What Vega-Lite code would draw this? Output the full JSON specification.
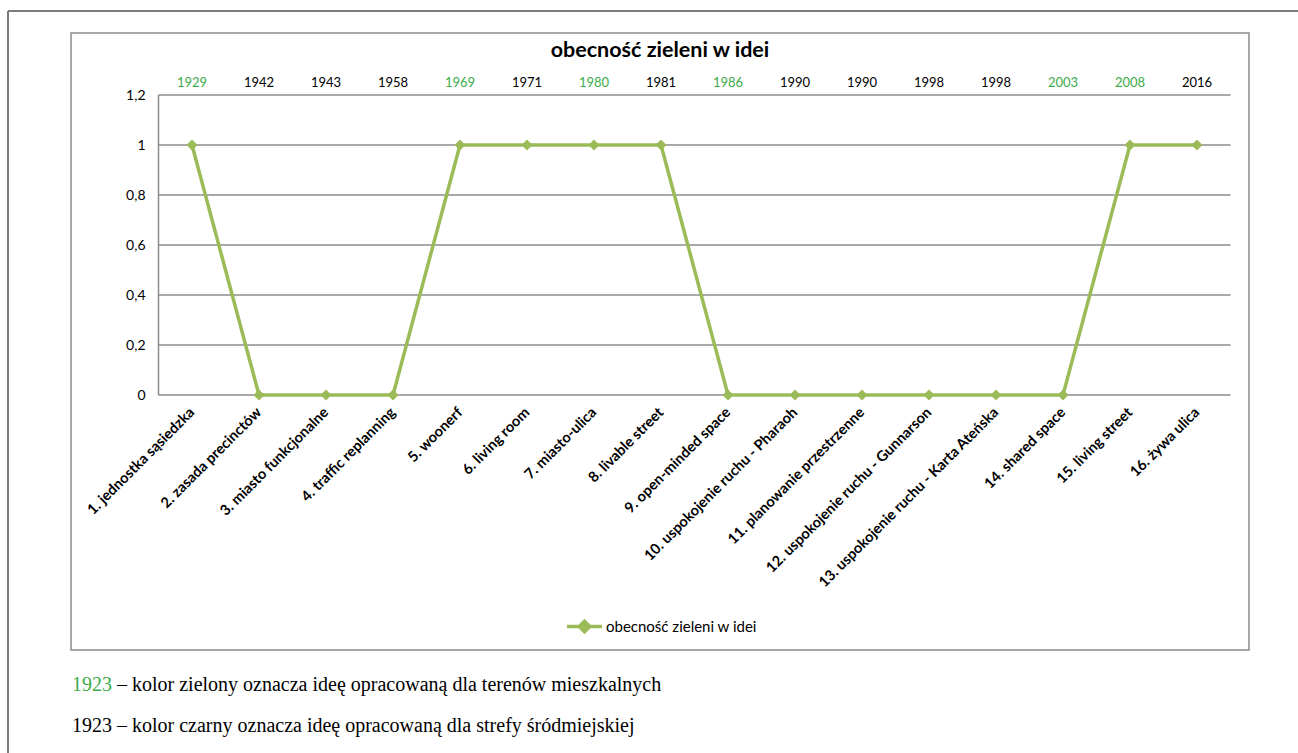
{
  "$schema": "https://vega.github.io/schema/vega-lite/v6.json",
  "width": 1178,
  "height": 617,
  "autosize": "none",
  "padding": {"left": 71, "top": 33, "right": 49, "bottom": 103},
  "background": "white",
  "config": {"view": {"stroke": "#8c8c8c", "strokeWidth": 1.5}, "font": "Lato"},
  "title": {"text": "obecność zieleni w idei", "fontSize": 21.5, "fontWeight": "bold", "font": "Lato", "color": "#000000", "anchor": "middle", "frame": "group", "offset": -51},
  "datasets": {
    "idee": [
      {"n": 1, "idea": "1. jednostka sąsiedzka", "rok": "1929", "strefa": "mieszkaniowa", "seria": "obecność zieleni w idei", "wartosc": 1},
      {"n": 2, "idea": "2. zasada precinctów", "rok": "1942", "strefa": "śródmiejska", "seria": "obecność zieleni w idei", "wartosc": 0},
      {"n": 3, "idea": "3. miasto funkcjonalne", "rok": "1943", "strefa": "śródmiejska", "seria": "obecność zieleni w idei", "wartosc": 0},
      {"n": 4, "idea": "4. traffic replanning", "rok": "1958", "strefa": "śródmiejska", "seria": "obecność zieleni w idei", "wartosc": 0},
      {"n": 5, "idea": "5. woonerf", "rok": "1969", "strefa": "mieszkaniowa", "seria": "obecność zieleni w idei", "wartosc": 1},
      {"n": 6, "idea": "6. living room", "rok": "1971", "strefa": "śródmiejska", "seria": "obecność zieleni w idei", "wartosc": 1},
      {"n": 7, "idea": "7. miasto-ulica", "rok": "1980", "strefa": "mieszkaniowa", "seria": "obecność zieleni w idei", "wartosc": 1},
      {"n": 8, "idea": "8. livable street", "rok": "1981", "strefa": "śródmiejska", "seria": "obecność zieleni w idei", "wartosc": 1},
      {"n": 9, "idea": "9. open-minded space", "rok": "1986", "strefa": "mieszkaniowa", "seria": "obecność zieleni w idei", "wartosc": 0},
      {"n": 10, "idea": "10. uspokojenie ruchu - Pharaoh", "rok": "1990", "strefa": "śródmiejska", "seria": "obecność zieleni w idei", "wartosc": 0},
      {"n": 11, "idea": "11. planowanie przestrzenne", "rok": "1990", "strefa": "śródmiejska", "seria": "obecność zieleni w idei", "wartosc": 0},
      {"n": 12, "idea": "12. uspokojenie ruchu - Gunnarson", "rok": "1998", "strefa": "śródmiejska", "seria": "obecność zieleni w idei", "wartosc": 0},
      {"n": 13, "idea": "13. uspokojenie ruchu - Karta Ateńska", "rok": "1998", "strefa": "śródmiejska", "seria": "obecność zieleni w idei", "wartosc": 0},
      {"n": 14, "idea": "14. shared space", "rok": "2003", "strefa": "mieszkaniowa", "seria": "obecność zieleni w idei", "wartosc": 0},
      {"n": 15, "idea": "15. living street", "rok": "2008", "strefa": "mieszkaniowa", "seria": "obecność zieleni w idei", "wartosc": 1},
      {"n": 16, "idea": "16. żywa ulica", "rok": "2016", "strefa": "śródmiejska", "seria": "obecność zieleni w idei", "wartosc": 1}
    ],
    "siatka": [{"v": 0}, {"v": 0.2}, {"v": 0.4}, {"v": 0.6}, {"v": 0.8}, {"v": 1}, {"v": 1.2}]
  },
  "data": {"name": "idee"},
  "layer": [
    {
      "data": {"name": "siatka"},
      "mark": {"type": "rule", "color": "#8c8c8c", "strokeWidth": 1.5, "xOffset": -33.5, "x2Offset": 33.5},
      "encoding": {
        "x": {"datum": "1. jednostka sąsiedzka", "type": "nominal", "scale": {"type": "point", "padding": 0, "range": [121, 1126], "domain": ["1. jednostka sąsiedzka", "2. zasada precinctów", "3. miasto funkcjonalne", "4. traffic replanning", "5. woonerf", "6. living room", "7. miasto-ulica", "8. livable street", "9. open-minded space", "10. uspokojenie ruchu - Pharaoh", "11. planowanie przestrzenne", "12. uspokojenie ruchu - Gunnarson", "13. uspokojenie ruchu - Karta Ateńska", "14. shared space", "15. living street", "16. żywa ulica"]}},
        "x2": {"datum": "16. żywa ulica"},
        "y": {"field": "v", "type": "quantitative", "scale": {"domain": [-1.02, 1.448], "nice": false, "zero": false}, "axis": {"values": [0, 0.2, 0.4, 0.6, 0.8, 1, 1.2], "offset": -74, "domain": false, "ticks": false, "tickSize": 0, "grid": false, "labelPadding": 0, "labelFontSize": 14, "labelColor": "#000000", "labelFont": "Lato", "title": null, "labelExpr": "replace(format(datum.value, '.1~f'), '.', ',')"}}
      }
    },
    {
      "data": {"values": [{"od": 0, "do": 1.2}]},
      "mark": {"type": "rule", "color": "#8c8c8c", "strokeWidth": 1.5, "xOffset": -33.5},
      "encoding": {
        "x": {"datum": "1. jednostka sąsiedzka", "type": "nominal"},
        "y": {"field": "od", "type": "quantitative"},
        "y2": {"field": "do"}
      }
    },
    {
      "data": {"values": [{"a": 1}]},
      "mark": {"type": "rule", "color": "#7a7a7a", "strokeWidth": 2, "xOffset": -184, "x2Offset": 200},
      "encoding": {
        "x": {"datum": "1. jednostka sąsiedzka", "type": "nominal"},
        "x2": {"datum": "16. żywa ulica"},
        "y": {"datum": 1.536}
      }
    },
    {
      "data": {"values": [{"a": 1}]},
      "mark": {"type": "rule", "color": "#7a7a7a", "strokeWidth": 2, "xOffset": -184},
      "encoding": {
        "x": {"datum": "1. jednostka sąsiedzka", "type": "nominal"},
        "y": {"datum": 1.536},
        "y2": {"datum": -1.7}
      }
    },
    {
      "mark": {"type": "line", "strokeWidth": 3.5},
      "encoding": {
        "x": {"field": "idea", "type": "nominal", "sort": null, "axis": {"orient": "bottom", "offset": -255, "domain": false, "ticks": false, "tickSize": 0, "grid": false, "labelAngle": -45, "labelPadding": 15, "labelFontSize": 14.6, "labelFontWeight": "bold", "labelFont": "Lato", "labelColor": "#000000", "labelLimit": 400, "labelOverlap": false, "title": null}},
        "y": {"field": "wartosc", "type": "quantitative"},
        "color": {"field": "seria", "type": "nominal", "scale": {"range": ["#9bbb59"]}, "legend": {"title": null, "orient": "none", "legendX": 494, "legendY": 574, "padding": 0, "symbolType": "M-1,0L1,0M0,-0.3L0.3,0L0,0.3L-0.3,0Z", "symbolSize": 1225, "symbolStrokeWidth": 3.5, "symbolFillColor": "#9bbb59", "symbolStrokeColor": "#9bbb59", "labelFontSize": 15, "labelFont": "Lato", "labelColor": "#000000", "labelOffset": 2}}
      }
    },
    {
      "mark": {"type": "point", "shape": "diamond", "filled": true, "size": 120, "opacity": 1},
      "encoding": {
        "x": {"field": "idea", "type": "nominal", "sort": null},
        "y": {"field": "wartosc", "type": "quantitative"},
        "color": {"field": "seria", "type": "nominal"}
      }
    },
    {
      "mark": {"type": "text", "fontSize": 13, "font": "Lato", "baseline": "middle", "dy": -12},
      "encoding": {
        "x": {"field": "idea", "type": "nominal", "sort": null},
        "y": {"datum": 1.2},
        "text": {"field": "rok"},
        "fill": {"field": "strefa", "type": "nominal", "scale": {"domain": ["mieszkaniowa", "śródmiejska"], "range": ["#3cab4b", "#000000"]}, "legend": null}
      }
    },
    {
      "data": {"values": [{"tekst": "1923"}]},
      "mark": {"type": "text", "font": "Liberation Serif", "fontSize": 20, "align": "left", "baseline": "middle", "dx": -120, "color": "#3cab4b"},
      "encoding": {
        "x": {"datum": "1. jednostka sąsiedzka", "type": "nominal"},
        "y": {"datum": -1.16},
        "text": {"field": "tekst"}
      }
    },
    {
      "data": {"values": [{"tekst": "– kolor zielony oznacza ideę opracowaną dla terenów mieszkalnych"}]},
      "mark": {"type": "text", "font": "Liberation Serif", "fontSize": 20, "align": "left", "baseline": "middle", "dx": -75, "color": "#000000"},
      "encoding": {
        "x": {"datum": "1. jednostka sąsiedzka", "type": "nominal"},
        "y": {"datum": -1.16},
        "text": {"field": "tekst"}
      }
    },
    {
      "data": {"values": [{"tekst": "1923 – kolor czarny oznacza ideę opracowaną dla strefy śródmiejskiej"}]},
      "mark": {"type": "text", "font": "Liberation Serif", "fontSize": 20, "align": "left", "baseline": "middle", "dx": -120, "color": "#000000"},
      "encoding": {
        "x": {"datum": "1. jednostka sąsiedzka", "type": "nominal"},
        "y": {"datum": -1.324},
        "text": {"field": "tekst"}
      }
    }
  ]
}
